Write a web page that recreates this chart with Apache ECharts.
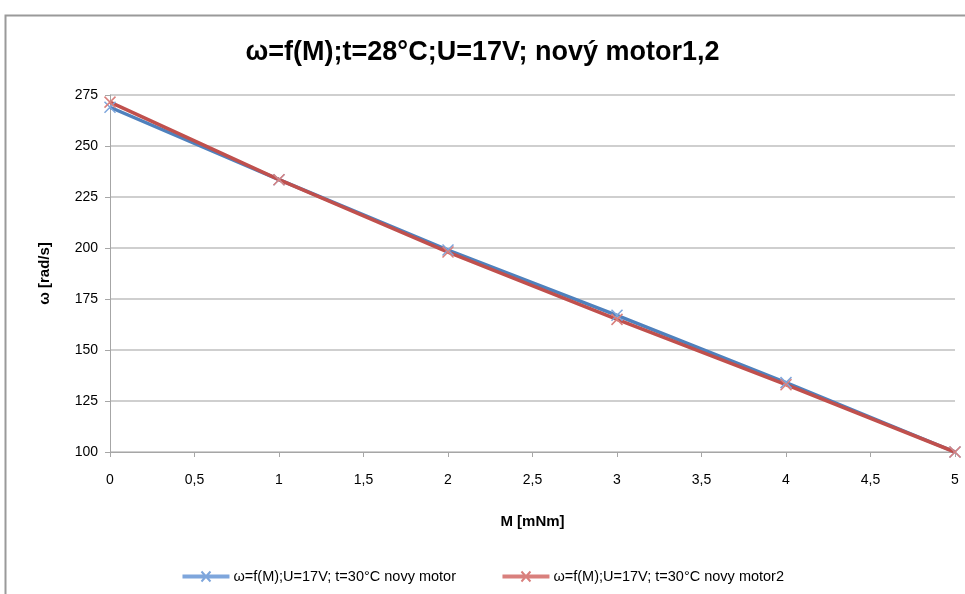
<!DOCTYPE html>
<html><head><meta charset="utf-8">
<script src="https://cdn.jsdelivr.net/npm/echarts@6/dist/echarts.min.js"></script>
<style>html,body{margin:0;padding:0;background:#fff}#c{width:965px;height:594px}</style>
</head><body><div id="c"></div>
<script>
const xValues = [0, 1, 2, 3, 4, 5];
const motor1 = [269, 233.5, 199, 167, 134, 100];
const motor2 = [271.5, 233.5, 198, 165, 133, 100];
const seriesNames = ['ω=f(M);U=17V; t=30°C novy motor', 'ω=f(M);U=17V; t=30°C novy motor2'];
const titleText = 'ω=f(M);t=28°C;U=17V; nový motor1,2';
const xName = 'M [mNm]';
const yName = 'ω [rad/s]';

const FONT = '"Liberation Sans", sans-serif';
const xMark = 'path://M0,0 L10,10 M10,0 L0,10';
const chart = echarts.init(document.getElementById('c'), null, {renderer: 'canvas'});
function mk(vals) { return xValues.map((x, i) => [x, vals[i]]); }
chart.setOption({
  animation: false,
  backgroundColor: '#fff',
  graphic: [{type: 'rect', shape: {x: 5.5, y: 15.5, width: 980, height: 600}, style: {fill: 'none', stroke: '#9a9a9a', lineWidth: 2}, z: -1}],
  title: {text: titleText, left: 'center', top: 34, textStyle: {fontFamily: FONT, fontSize: 27, fontWeight: 'bold', color: '#000'}},
  grid: {left: 110, right: 10, top: 95, bottom: 142},
  legend: {bottom: 5, left: 'center', itemGap: 45, itemWidth: 45, itemHeight: 10,
    textStyle: {fontFamily: FONT, fontSize: 14.5, color: '#000'},
    data: seriesNames.map(n => ({name: n, icon: 'path://M0,4 L45,4 L45,6 L0,6 Z M18,0 L27,10 M27,0 L18,10'}))},
  xAxis: {type: 'value', min: 0, max: 5, interval: 0.5, name: xName, nameLocation: 'middle', nameGap: 62,
    nameTextStyle: {fontFamily: FONT, fontSize: 15, fontWeight: 'bold', color: '#000'},
    axisLine: {lineStyle: {color: '#a6a6a6', width: 1}}, axisTick: {show: true, length: 5, lineStyle: {color: '#a6a6a6'}},
    axisLabel: {fontFamily: FONT, fontSize: 14, color: '#000', margin: 21, formatter: v => String(v).replace('.', ',')},
    splitLine: {show: false}},
  yAxis: {type: 'value', min: 100, max: 275, interval: 25, name: yName, nameLocation: 'middle', nameGap: 58, nameRotate: 90,
    nameTextStyle: {fontFamily: FONT, fontSize: 15, fontWeight: 'bold', color: '#000'},
    axisLine: {show: true, lineStyle: {color: '#a6a6a6', width: 1}}, axisTick: {show: true, length: 5, lineStyle: {color: '#a6a6a6'}},
    axisLabel: {fontFamily: FONT, fontSize: 14, color: '#000', margin: 12},
    splitLine: {show: true, lineStyle: {color: '#bfbfbf', width: 1.5}}},
  series: [
    {name: seriesNames[0], type: 'line', data: mk(motor1), symbol: xMark, symbolSize: 11,
     lineStyle: {color: '#4F81BD', width: 3.5}, itemStyle: {color: 'none', borderColor: '#7ea6dc', borderWidth: 1.5}, color: '#4F81BD'},
    {name: seriesNames[1], type: 'line', data: mk(motor2), symbol: xMark, symbolSize: 11,
     lineStyle: {color: '#C0504D', width: 3.5}, itemStyle: {color: 'none', borderColor: '#d9807d', borderWidth: 1.5}, color: '#C0504D'}
  ]
});
</script></body></html>
